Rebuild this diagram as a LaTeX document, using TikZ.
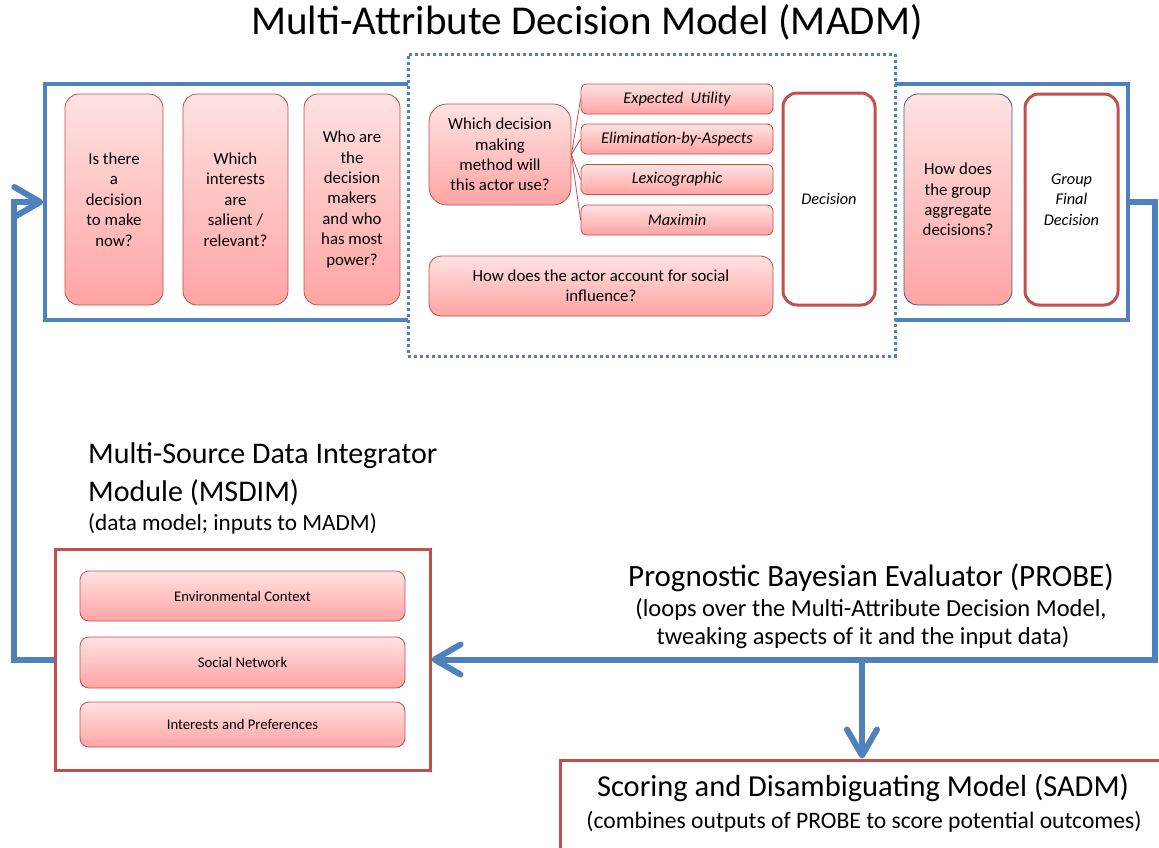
\documentclass[tikz,border=0pt]{standalone}
\usepackage{fontspec}
\setmainfont{Carlito}
\usetikzlibrary{arrows.meta}
\definecolor{blueline}{RGB}{79,129,189}
\definecolor{boxred}{RGB}{192,80,77}
\definecolor{pinktop}{RGB}{255,226,226}
\definecolor{pinkbot}{RGB}{255,164,164}
\definecolor{darkblue}{RGB}{56,93,138}
\newcommand{\fs}[2]{\fontsize{#1}{#2}\selectfont}
\tikzset{
  pinkbox/.style={draw=boxred, line width=0.8pt, rounded corners=14pt,
    top color=pinktop, bottom color=pinkbot, align=center, inner sep=0pt,
    font=\fs{16.8}{20.4}},
  methodbox/.style={pinkbox, rounded corners=6pt, minimum width=192pt,
    minimum height=30pt, font=\fs{16.4}{20}\itshape},
  datebox/.style={pinkbox, rounded corners=9pt, minimum width=325pt, font=\fs{14.7}{18}},
  resultbox/.style={draw=boxred, line width=3pt, rounded corners=14pt, fill=white,
    align=center, inner sep=0pt, font=\fs{16.3}{20.4}\itshape},
  tree/.style={draw=boxred, line width=0.8pt},
  flow/.style={draw=blueline, line width=6pt,
    -{Straight Barb[length=26pt,width=30pt,round,line width=6pt]}},
}
\begin{document}
\begin{tikzpicture}[x=1pt,y=-1pt]
\useasboundingbox (0,0) rectangle (1159,847);

% Multi-Attribute Decision Model
\node[font=\fs{41}{46}] (title) at (587,22) {Multi-Attribute Decision Model (MADM)};
\node[draw=blueline, line width=3.5pt, minimum width=1083pt, minimum height=236pt,
      inner sep=0pt] (madm) at (586.5,202) {};
\node[draw=blueline, line width=3pt, dash pattern=on 3pt off 3pt, fill=white,
      minimum width=487pt, minimum height=302pt, inner sep=0pt] (actor) at (651.5,205) {};

\node[pinkbox, minimum width=98pt, minimum height=211pt] (q1) at (114,199.5)
  {Is there\\a\\decision\\to make\\now?};
\node[pinkbox, minimum width=105pt, minimum height=211pt] (q2) at (235.5,199.5)
  {Which\\interests\\are\\salient /\\relevant?};
\node[pinkbox, minimum width=96pt, minimum height=211pt] (q3) at (352,199.5)
  {Who are\\the\\decision\\makers\\and who\\has most\\power?};

\node[pinkbox, rounded corners=18pt, minimum width=142pt, minimum height=101pt] (method) at (500,154.5)
  {Which decision\\making\\method will\\this actor use?};
\node[methodbox] (eu)   at (677,99)    {Expected\ \ Utility};
\node[methodbox] (eba)  at (677,139)   {Elimination-by-Aspects};
\node[methodbox] (lex)  at (677,179.5) {Lexicographic};
\node[methodbox] (maxi) at (677,220)   {Maximin};
\foreach \m in {eu,eba,lex,maxi}
  \draw[tree] (method.east) -- (\m.west);

\node[pinkbox, rounded corners=12pt, minimum width=344pt, minimum height=60pt] (social) at (601,286)
  {How does the actor account for social\\influence?};
\node[resultbox, minimum width=92pt, minimum height=212pt] (decision) at (829,199) {Decision};

\node[pinkbox, draw=darkblue, minimum width=108pt, minimum height=211pt] (aggregate) at (958,199.5)
  {How does\\the group\\aggregate\\decisions?};
\node[resultbox, minimum width=93pt, minimum height=211pt] (final) at (1071.5,199.5)
  {Group\\Final\\Decision};

% Multi-Source Data Integrator Module
\node[anchor=base west, inner sep=0pt, font=\fs{30}{36}] (msdimtitle) at (88,463)
  {Multi-Source Data Integrator};
\node[anchor=base west, inner sep=0pt, font=\fs{30}{36}] (msdimtitle2) at (88,501)
  {Module (MSDIM)};
\node[anchor=base west, inner sep=0pt, font=\fs{23.2}{28}] (msdimnote) at (88,530)
  {(data model; inputs to MADM)};
\node[draw=boxred, line width=3pt, minimum width=375pt, minimum height=221pt, inner sep=0pt]
  (msdim) at (242.5,659.5) {};
\node[datebox, minimum height=50pt] (env) at (242.5,596)   {Environmental Context};
\node[datebox, minimum height=51pt] (net) at (242.5,662.5) {Social Network};
\node[datebox, minimum height=45pt] (pref) at (242.5,724.5) {Interests and Preferences};

% Prognostic Bayesian Evaluator
\node[font=\fs{31}{36}] (probe) at (871,578) {Prognostic Bayesian Evaluator (PROBE)};
\node[font=\fs{24.5}{28}] (probenote) at (871,610)
  {(loops over the Multi-Attribute Decision Model,};
\node[font=\fs{24.5}{28}] (probenote2) at (863,638)
  {tweaking aspects of it and the input data)};

% Scoring and Disambiguating Model
\node[draw=boxred, line width=3pt, minimum width=620pt, minimum height=120pt, inner sep=0pt]
  (sadm) at (870,820) {};
\node[font=\fs{30.5}{34}] (sadmtitle) at (863,788) {Scoring and Disambiguating Model (SADM)};
\node[font=\fs{23.6}{28}] (sadmnote) at (864,822) {(combines outputs of PROBE to score potential outcomes)};

% Feedback loop
\coordinate (split) at (862,658);
\draw[flow] (madm.east) -- (1155,202) |- (msdim.east);
\draw[flow] (split) -- (split |- sadm.north);
\draw[flow] (msdim.west) -- (14,659.5) |- (madm.west);
\end{tikzpicture}
\end{document}
